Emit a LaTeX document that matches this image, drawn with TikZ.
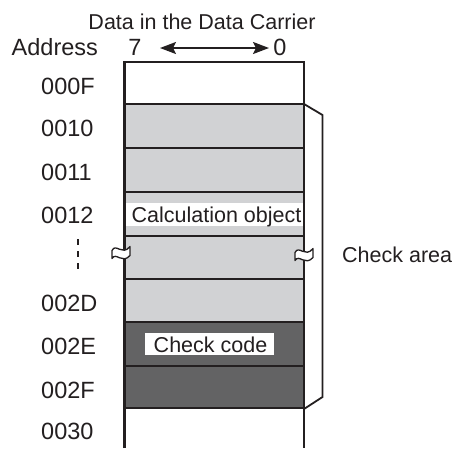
\documentclass[tikz,border=0pt]{standalone}
\usepackage{fontspec}
\setmainfont{Liberation Sans}
\usetikzlibrary{arrows.meta}
\definecolor{cellgray}{RGB}{209,210,212}
\definecolor{codegray}{RGB}{99,99,100}
\definecolor{inkc}{RGB}{35,31,32}
\begin{document}
\begin{tikzpicture}[x=1pt,y=-1pt,
  addr/.style={anchor=base west,inner sep=0pt,font=\fontsize{23.5}{28}\selectfont,text=inkc},
  lbl/.style={inner sep=0pt,font=\fontsize{21.5}{26}\selectfont,text=inkc},
  sepline/.style={draw=inkc,line width=1.3pt},
  border/.style={draw=inkc,line width=2.2pt},
  brk/.style={fill=white,draw=inkc,line width=1.3pt,line join=round}]
\useasboundingbox (0,0) rectangle (457,448);
% fills
\fill[cellgray] (124.5,104) rectangle (304,322);
\fill[codegray] (124.5,322) rectangle (304,408);
% separators
\foreach \yy in {104,148,192,236,279,322,366,408}
  \draw[sepline] (124.5,\yy) -- (304,\yy);
% white label boxes
\fill[white] (125.5,203) rectangle (303,226);
\fill[white] (145,333) rectangle (274,355);
\node[lbl,anchor=base] (calc) at (216.5,222.7) {Calculation object};
\node[lbl,anchor=base] (code) at (210.5,352.7) {Check code};
% border
\draw[border] (124.5,448) -- (124.5,62) -- (304,62) -- (304,448);
% break marks
\foreach \cx/\cy in {121/252.5,304/254.5}{
  \draw[brk] (\cx-9,\cy-2) .. controls (\cx-5,\cy-10) and (\cx+1,\cy+4) .. (\cx+9,\cy-6)
     -- (\cx+9,\cy+3) .. controls (\cx+1,\cy+12) and (\cx-5,\cy-1) .. (\cx-9,\cy+6) -- cycle;
}
% bracket
\draw[draw=inkc,line width=1.8pt,line join=miter] (304,104) -- (322.5,115) -- (322.5,397) -- (304,409);
% dashed
\coordinate (dtop) at (78,239);
\coordinate (dbot) at (78,270);
\draw[draw=inkc,line width=1.2pt,dash pattern=on 5.5pt off 6.5pt] (dtop) -- (dbot);
% header
\node[lbl,anchor=base] (title) at (202,29.3) {Data in the Data Carrier};
\node[addr] (address) at (11.5,55) {Address};
\node[addr,anchor=base] (seven) at (135,55) {7};
\node[addr,anchor=base] (zero) at (280,55) {0};
\coordinate (aL) at (160,48);
\coordinate (aR) at (269,48);
\draw[draw=inkc,line width=2pt,{Stealth[length=16pt,width=12pt,inset=3pt]}-{Stealth[length=16pt,width=12pt,inset=3pt]}] (aL) -- (aR);
% addresses
\node[addr] (a0F) at (41,94) {000F};
\node[addr] (a10) at (41,136.7) {0010};
\node[addr] (a11) at (41,180) {0011};
\node[addr] (a12) at (41,223) {0012};
\node[addr] (a2D) at (41,311.7) {002D};
\node[addr] (a2E) at (41,354) {002E};
\node[addr] (a2F) at (41,398.3) {002F};
\node[addr] (a30) at (41,439) {0030};
\node[lbl,anchor=base west] (area) at (342,262.7) {Check area};
\end{tikzpicture}
\end{document}
